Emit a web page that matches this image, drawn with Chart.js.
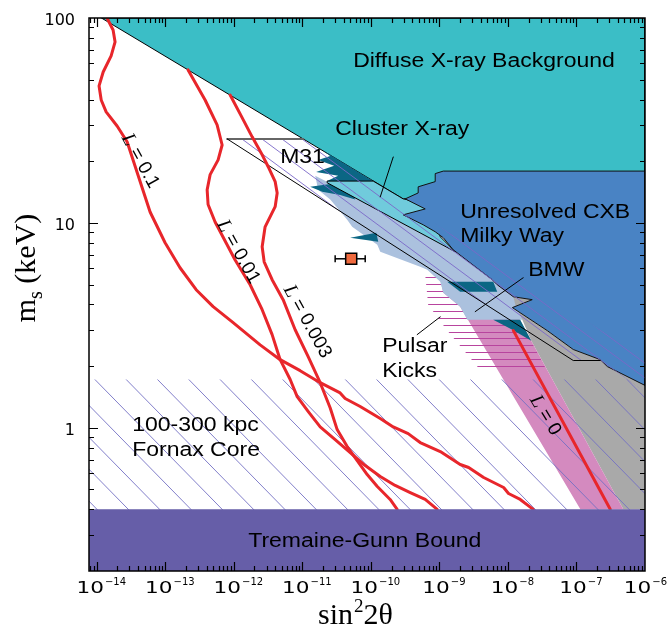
<!DOCTYPE html>
<html><head><meta charset="utf-8">
<script src="https://cdn.jsdelivr.net/npm/chart.js@4/dist/chart.umd.min.js"></script>
<style>html,body{margin:0;padding:0;background:#fff}canvas{display:block}</style>
</head><body>
<canvas id="c" width="668" height="628" style="width:668px;height:628px"></canvas>
<script>
// ---------- axes ----------
const xRange = [7.7e-15, 1e-6];
const yRange = [0.2, 100];
const xMajorTicks = [1e-14,1e-13,1e-12,1e-11,1e-10,1e-9,1e-8,1e-7,1e-6];
const xTickExponents = ['\u221214','\u221213','\u221212','\u221211','\u221210','\u22129','\u22128','\u22127','\u22126'];
const yMajorTicks = [1,10,100];
const yTickLabels = ['1','10','100'];

// ---------- constraint regions [sin^2 2theta, m_s keV] ----------
const diffuseXray = [[1.17e-14,100],[1e-6,100],[1e-6,16.2],[2.96e-10,13.1],[1.17e-14,100]];
const unresolvedCXB = [[1.14e-9,17.9],[1e-6,17.9],[1e-6,1.61],[2.82e-7,1.99],[2.23e-7,2.15],[8.98e-8,2.41],[3.75e-8,2.98],[1.16e-8,3.86],[2.26e-8,4.22],[1.20e-8,4.36],[6.98e-9,4.99],[5.90e-9,5.28],[1.59e-9,7.39],[1.14e-9,8.46],[8.68e-10,9.05],[5.80e-10,9.79],[2.96e-10,10.95],[6.20e-10,11.7],[3.17e-10,13.1],[4.90e-10,14.0],[4.90e-10,15.0],[8.68e-10,15.9],[8.68e-10,17.4],[1.14e-9,17.9]];
const clusterXray = [[2.30e-11,16.0],[1.08e-10,16.0],[2.96e-10,13.1],[7.34e-10,12.3],[1.03e-9,8.55],[1.70e-9,7.23],[2.30e-11,15.7],[2.30e-11,16.0]];
const grayRegion = [[5.51e-9,5.16],[1.20e-8,4.36],[2.26e-8,4.22],[1.16e-8,3.86],[3.75e-8,2.98],[8.98e-8,2.41],[2.23e-7,2.15],[2.82e-7,1.99],[1e-6,1.70],[1e-6,0.4],[4.82e-7,0.4],[2.19e-8,2.66],[1.62e-8,3.37],[9.13e-9,4.22]];
const pulsarBand = [[1.03e-9,5.28],[7.72e-9,4.99],[2.19e-8,2.66],[4.82e-7,0.4],[1.14e-7,0.4],[2.01e-9,3.90],[1.14e-9,4.56]];
const bmwRegion = [[1.54e-11,17.0],[1.44e-9,7.82],[5.90e-9,5.28],[1.20e-8,4.36],[1.28e-8,3.99],[1.62e-8,3.37],[2.55e-9,3.37],[2.01e-9,3.90],[1.14e-9,4.56],[1.03e-9,5.16],[6.64e-10,5.91],[5.24e-10,6.11],[1.37e-10,7.23],[1.24e-10,7.82],[5.33e-11,9.57],[4.51e-11,10.35],[2.55e-11,13.0],[1.70e-11,14.5]];
const m31Teal = [[1.95e-11,22.7],[1.08e-10,16.0],[2.30e-11,16.0],[3.33e-11,17.0],[1.59e-11,17.7],[2.91e-11,19.0],[1.70e-11,20.3],[2.55e-11,21.2]];
const m31Teal2 = [[1.30e-11,15.0],[2.55e-11,15.5],[4.66e-11,15.2],[5.90e-11,13.0],[3.56e-11,13.7],[1.95e-11,14.2]];
const m31Teal3 = [[4.99e-11,8.46],[1.20e-10,8.95],[1.28e-10,8.09]];
const bmwTeal1 = [[1.30e-9,5.16],[6.10e-9,5.16],[6.98e-9,4.61],[2.01e-9,4.61]];
const bmwTeal2 = [[6.10e-9,3.37],[1.51e-8,3.37],[2.19e-8,2.66],[1.16e-8,3.01]];
const pulsarKicks = [[6.20e-10,5.58],[6.53e-9,5.58],[3.50e-8,1.97],[3.68e-9,1.97],[1.30e-9,2.98],[6.86e-10,3.99]];
const m31Band = [[7.98e-13,25.7],[1.03e-11,25.7],[1e-6,2.17],[1e-6,1.50],[2.23e-7,2.13],[8.98e-8,2.13]];
const m31Top = [[7.98e-13,25.7],[1.03e-11,25.7]];
const m31Lower = [[7.98e-13,25.7],[8.98e-8,2.13],[2.23e-7,2.13]];
const fornaxTopKeV = 1.72;
const tremaineGunnKeV = 0.40;
const tremaineGunn = [[xRange[0],tremaineGunnKeV],[1e-6,tremaineGunnKeV],[1e-6,0.2],[xRange[0],0.2]];

// ---------- lepton asymmetry contours ----------
const curveL01 = [[1.41e-14,100],[1.73e-14,87.4],[1.85e-14,76.4],[1.62e-14,65.3],[1.24e-14,54.5],[1.08e-14,46.6],[1.16e-14,39.8],[1.37e-14,34.8],[1.98e-14,29.7],[2.77e-14,24.9],[6.00e-14,11.3],[9.93e-14,8.0],[1.64e-13,6.04],[2.82e-13,4.72],[4.99e-13,3.90],[9.77e-13,3.26],[2.42e-12,2.54],[4.74e-12,2.15],[9.29e-12,1.90],[1.82e-11,1.66],[3.56e-11,1.48],[4.21e-11,1.39],[6.98e-11,1.27],[1.37e-10,1.11],[2.12e-10,1.01],[3.50e-10,0.937],[5.24e-10,0.847],[1.03e-9,0.766],[2.01e-9,0.662],[2.67e-9,0.640],[4.42e-9,0.572],[8.65e-9,0.511],[1.02e-8,0.478],[1.51e-8,0.447],[2.34e-8,0.40]];
const curveL001 = [[2.15e-13,55.8],[3.81e-13,39.8],[5.70e-13,30.1],[6.75e-13,24.0],[5.90e-13,20.3],[4.51e-13,17.2],[4.08e-13,14.5],[4.21e-13,12.3],[5.33e-13,10.1],[1.04e-12,6.61],[1.73e-12,4.99],[2.59e-12,3.77],[3.62e-12,2.85],[4.74e-12,2.15],[6.64e-12,1.72],[8.40e-12,1.42],[1.22e-11,1.20],[1.82e-11,1.01],[3.01e-11,0.876],[4.99e-11,0.757],[8.26e-11,0.654],[1.37e-10,0.578],[2.26e-10,0.523],[3.75e-10,0.483],[6.20e-10,0.447],[9.29e-10,0.40]];
const curveL0003 = [[8.83e-13,42.1],[1.28e-12,33.3],[1.85e-12,26.3],[2.59e-12,21.5],[3.17e-12,18.8],[4.01e-12,15.9],[4.29e-12,14.0],[4.01e-12,12.0],[2.86e-12,9.57],[2.59e-12,7.65],[2.77e-12,6.46],[3.62e-12,5.28],[5.24e-12,4.22],[7.85e-12,3.01],[1.22e-11,2.22],[1.82e-11,1.66],[2.55e-11,1.25],[3.22e-11,0.980],[4.51e-11,0.810],[6.31e-11,0.692],[8.83e-11,0.591],[1.24e-10,0.517],[1.91e-10,0.447],[2.42e-10,0.40]];
const curveL0 = [[1.20e-8,2.98],[3.11e-7,0.40]];

// ---------- detection point ----------
const detection = [[5.16e-11,6.68]];
const detectionXErr = [[3.01e-11,6.68],[8.26e-11,6.68]];

// ---------- pointer lines ----------
const pointerCluster = [[2.12e-10,21.0],[1.37e-10,13.4]];
const pointerBMW = [[1.67e-8,5.40],[3.33e-9,3.69]];
const pointerPulsar = [[1.03e-9,3.48],[4.74e-10,2.85]];

// ---------- annotations ----------
const regionLabels = [
  ['Diffuse X-ray Background', 5.51e-11, 57.5],
  ['Cluster X-ray', 3.01e-11, 27.0],
  ['M31', 4.74e-12, 19.6],
  ['Unresolved CXB', 2.01e-9, 10.6],
  ['Milky Way', 2.01e-9, 8.04],
  ['BMW', 1.98e-8, 5.52],
  ['Pulsar', 1.46e-10, 2.34],
  ['Kicks', 1.46e-10, 1.77],
  ['100-300 kpc', 3.28e-14, 0.964],
  ['Fornax Core', 3.28e-14, 0.728],
  ['Tremaine-Gunn Bound', 1.62e-12, 0.261]
];
const curveLabels = [
  ['0.1', 4.29e-14, 20.1, 61],
  ['0.01', 1.16e-12, 7.23, 61],
  ['0.003', 1.18e-11, 3.30, 61],
  ['0', 3.50e-8, 1.15, 59]
];
const m31HatchAnchor = [1.31e-12, 25.7];
const fornaxHatchAnchor = [6.31e-13, fornaxTopKeV];

// ---------- datasets ----------
const P = a => a.map(([x,y]) => ({x, y}));
function area(label, pts, color, order, bc, bw) {
  return {label, data: P(pts), showLine: true, fill: 'shape', backgroundColor: color,
    borderColor: bc || 'rgba(0,0,0,0)', borderWidth: bw || 0, pointRadius: 0, pointHoverRadius: 0,
    tension: 0, order, clip: 0};
}
function line(label, pts, color, width, order) {
  return {label, data: P(pts), showLine: true, fill: false, borderColor: color, borderWidth: width,
    pointRadius: 0, pointHoverRadius: 0, tension: 0, order, clip: 0,
    borderJoinStyle: 'round', borderCapStyle: 'round'};
}
const RED = '#e8262b';
const datasets = [
  area('diffuse', diffuseXray, '#3bbec6', 100, '#000', 1),
  area('gray', grayRegion, '#a9a9a9', 95),
  area('pink', pulsarBand, '#d48abf', 90),
  area('bmw', bmwRegion, '#abc1de', 80),
  area('teal1', m31Teal, '#0b6684', 75),
  area('teal2', m31Teal2, '#0b6684', 74),
  area('teal3', m31Teal3, '#0b6684', 73),
  area('strip1', bmwTeal1, '#0b6684', 72),
  area('strip2', bmwTeal2, '#0b6684', 71),
  area('cluster', clusterXray, '#70cbdc', 70, '#000', 1),
  area('blue', unresolvedCXB, '#4983c4', 65, '#111', 1),
  line('m31top', m31Top, '#666', 2, 58),
  line('m31lower', m31Lower, '#000', 1, 57),
  line('ptr1', pointerCluster, '#000', 1, 56),
  line('ptr2', pointerBMW, '#000', 1, 55),
  line('ptr3', pointerPulsar, '#000', 1, 54),
  line('L0.1', curveL01, RED, 3, 40),
  line('L0.01', curveL001, RED, 3, 39),
  line('L0.003', curveL0003, RED, 3, 38),
  line('L0', curveL0, RED, 3, 37),
  area('tg', tremaineGunn, '#665ea8', 30),
  {label: 'err', data: P(detectionXErr), showLine: true, borderColor: '#000', borderWidth: 1.5,
    pointStyle: 'line', rotation: 90, pointRadius: 3.5, pointBorderColor: '#000', pointBorderWidth: 1.5,
    order: 20, clip: 0},
  {label: 'pt', data: P(detection), pointStyle: 'rect', pointRadius: 7.8, backgroundColor: '#f06a3e',
    borderColor: '#000', borderWidth: 1.5, order: 10, clip: 0}
];

// ---------- drawing helpers ----------
function polyPath(ctx, chart, pts) {
  const xs = chart.scales.x, ys = chart.scales.y;
  ctx.beginPath();
  pts.forEach(([x,y], i) => {
    const px = xs.getPixelForValue(x), py = ys.getPixelForValue(y);
    i ? ctx.lineTo(px, py) : ctx.moveTo(px, py);
  });
  ctx.closePath();
}
function hatch(chart, pts, anchor, slope, spacing, color, width) {
  const ctx = chart.ctx, xs = chart.scales.x, ys = chart.scales.y;
  const {left, right} = chart.chartArea;
  ctx.save();
  polyPath(ctx, chart, pts); ctx.clip();
  const ax = xs.getPixelForValue(anchor[0]), ay = ys.getPixelForValue(anchor[1]);
  ctx.strokeStyle = color; ctx.lineWidth = width;
  ctx.beginPath();
  for (let k = -80; k <= 80; k++) {
    const x0 = ax + k * spacing, xa = left - 20, xb = right + 20;
    ctx.moveTo(xa, ay + slope * (xa - x0));
    ctx.lineTo(xb, ay + slope * (xb - x0));
  }
  ctx.stroke(); ctx.restore();
}
function kicks(chart) {
  const ctx = chart.ctx, ys = chart.scales.y;
  const {left, right} = chart.chartArea;
  ctx.save();
  polyPath(ctx, chart, pulsarKicks); ctx.clip();
  const y0 = ys.getPixelForValue(pulsarKicks[0][1]) + 2;
  const y1 = ys.getPixelForValue(pulsarKicks[2][1]);
  ctx.strokeStyle = '#b8449e'; ctx.lineWidth = 1;
  ctx.beginPath();
  for (let y = y0; y <= y1; y += 6.85) { ctx.moveTo(left, Math.round(y) + 0.5); ctx.lineTo(right, Math.round(y) + 0.5); }
  ctx.stroke(); ctx.restore();
}
const SANS = '"Liberation Sans", Arial, Helvetica, sans-serif';
const SERIF = '"Liberation Serif", "Times New Roman", serif';
function texts(chart) {
  const ctx = chart.ctx, xs = chart.scales.x, ys = chart.scales.y;
  ctx.save();
  ctx.fillStyle = '#000'; ctx.textBaseline = 'alphabetic'; ctx.textAlign = 'left';
  for (const [t, xv, yv] of regionLabels) {
    ctx.save();
    ctx.translate(xs.getPixelForValue(xv), ys.getPixelForValue(yv));
    ctx.scale(1.15, 1);
    ctx.font = '20px ' + SANS;
    ctx.fillText(t, 0, 0);
    ctx.restore();
  }
  for (const [v, xv, yv, ang] of curveLabels) {
    ctx.save();
    ctx.translate(xs.getPixelForValue(xv), ys.getPixelForValue(yv));
    ctx.rotate(ang * Math.PI / 180);
    ctx.font = 'italic 20px ' + SERIF;
    const wL = ctx.measureText('L').width;
    ctx.font = '19px ' + SANS;
    const rest = ' = ' + v;
    const wR = ctx.measureText(rest).width;
    const x0 = -(wL + wR) / 2;
    ctx.textBaseline = 'middle';
    ctx.font = 'italic 20px ' + SERIF;
    ctx.fillText('L', x0, 0);
    ctx.font = '19px ' + SANS;
    ctx.fillText(rest, x0 + wL, 0);
    ctx.restore();
  }
  ctx.restore();
}
function frameAndTicks(chart) {
  const ctx = chart.ctx, xs = chart.scales.x, ys = chart.scales.y;
  const {left, right, top, bottom} = chart.chartArea;
  ctx.save();
  ctx.strokeStyle = '#000'; ctx.lineWidth = 1.2;
  ctx.beginPath();
  for (let d = -15; d <= -6; d++) {
    for (let m = 1; m <= 9; m++) {
      const v = m * Math.pow(10, d);
      if (v < xRange[0] || v > xRange[1]) continue;
      const px = Math.round(xs.getPixelForValue(v)) + 0.5;
      if (px < left + 1 || px > right - 1) continue;
      const L = m === 1 ? 9 : 5;
      ctx.moveTo(px, bottom); ctx.lineTo(px, bottom - L);
      ctx.moveTo(px, top); ctx.lineTo(px, top + L);
    }
  }
  for (let d = -1; d <= 2; d++) {
    for (let m = 1; m <= 9; m++) {
      const v = m * Math.pow(10, d);
      if (v < yRange[0] || v > yRange[1]) continue;
      const py = Math.round(ys.getPixelForValue(v)) + 0.5;
      if (py < top + 1 || py > bottom - 1) continue;
      const L = m === 1 ? 9 : 5;
      ctx.moveTo(left, py); ctx.lineTo(left + L, py);
      ctx.moveTo(right, py); ctx.lineTo(right - L, py);
    }
  }
  ctx.stroke();
  ctx.lineWidth = 1.5;
  ctx.strokeRect(left, top, right - left, bottom - top);
  // tick labels
  ctx.fillStyle = '#000'; ctx.textBaseline = 'alphabetic';
  xMajorTicks.forEach((v, i) => {
    const px = xs.getPixelForValue(v);
    ctx.font = '16px "DejaVu Sans", sans-serif';
    const wb = ctx.measureText('10').width * 1.35;
    ctx.font = '10px "DejaVu Sans", sans-serif';
    const wsup = ctx.measureText(xTickExponents[i]).width;
    const x0 = Math.min(px + 4 - (wb + wsup) / 2, 667 - wb - wsup - 1);
    ctx.save(); ctx.translate(x0, bottom + 22); ctx.scale(1.35, 1);
    ctx.font = '16px "DejaVu Sans", sans-serif'; ctx.textAlign = 'left';
    ctx.fillText('10', 0, 0); ctx.restore();
    ctx.font = '10px "DejaVu Sans", sans-serif'; ctx.textAlign = 'left';
    ctx.fillText(xTickExponents[i], x0 + wb + 1, bottom + 14);
  });
  ctx.font = '16px "DejaVu Sans", sans-serif'; ctx.textAlign = 'right';
  yMajorTicks.forEach((v, i) => {
    ctx.fillText(yTickLabels[i], 75, ys.getPixelForValue(v) + 7);
  });
  // axis titles
  ctx.textAlign = 'left';
  ctx.font = '30px ' + SERIF; const w1 = ctx.measureText('sin').width;
  ctx.font = '19px ' + SERIF; const w2 = ctx.measureText('2').width;
  ctx.font = '30px ' + SERIF; const w3 = ctx.measureText('2\u03b8').width;
  let tx = (left + right) / 2 - 12 - (w1 + w2 + w3) / 2; const ty = 624;
  ctx.font = '30px ' + SERIF; ctx.fillText('sin', tx, ty);
  ctx.font = '19px ' + SERIF; ctx.fillText('2', tx + w1 + 1, ty - 12);
  ctx.font = '30px ' + SERIF; ctx.fillText('2\u03b8', tx + w1 + w2 + 1, ty);
  ctx.save();
  ctx.translate(35, 268); ctx.rotate(-Math.PI / 2);
  ctx.font = '30px ' + SERIF; const a1 = ctx.measureText('m').width;
  ctx.font = '20px ' + SERIF; const a2 = ctx.measureText('s').width;
  ctx.font = '30px ' + SERIF; const a3 = ctx.measureText(' (keV)').width;
  const sx = -(a1 + a2 + a3) / 2;
  ctx.font = '30px ' + SERIF; ctx.fillText('m', sx, 0);
  ctx.font = '20px ' + SERIF; ctx.fillText('s', sx + a1, 7);
  ctx.font = '30px ' + SERIF; ctx.fillText(' (keV)', sx + a1 + a2, 0);
  ctx.restore();
  ctx.restore();
}

const deco = {
  id: 'deco',
  afterDatasetDraw(chart, args) {
    const lab = chart.data.datasets[args.index].label;
    if (lab === 'pink') kicks(chart);
    if (lab === 'blue') {
      hatch(chart, m31Band, m31HatchAnchor, 0.74, 20, '#7b68c8', 0.9);
      hatch(chart, [[xRange[0], fornaxTopKeV], [xRange[1], fornaxTopKeV], [xRange[1], yRange[0]], [xRange[0], yRange[0]]],
        fornaxHatchAnchor, 1.02, 31.3, '#7471c4', 0.9);
    }
  },
  afterDatasetsDraw(chart) { texts(chart); },
  afterDraw(chart) { frameAndTicks(chart); }
};

new Chart(document.getElementById('c'), {
  type: 'scatter',
  data: {datasets},
  options: {
    responsive: false, animation: false, devicePixelRatio: 1, events: [],
    layout: {padding: {top: 18, right: 23, left: 0, bottom: 0}},
    plugins: {legend: {display: false}, tooltip: {enabled: false}},
    scales: {
      x: {type: 'logarithmic', min: xRange[0], max: xRange[1], grid: {display: false},
        border: {display: false}, ticks: {display: false}, afterFit(s) { s.height = 57; }},
      y: {type: 'logarithmic', min: yRange[0], max: yRange[1], grid: {display: false},
        border: {display: false}, ticks: {display: false}, afterFit(s) { s.width = 89; }}
    }
  },
  plugins: [deco]
});
</script>
</body></html>
